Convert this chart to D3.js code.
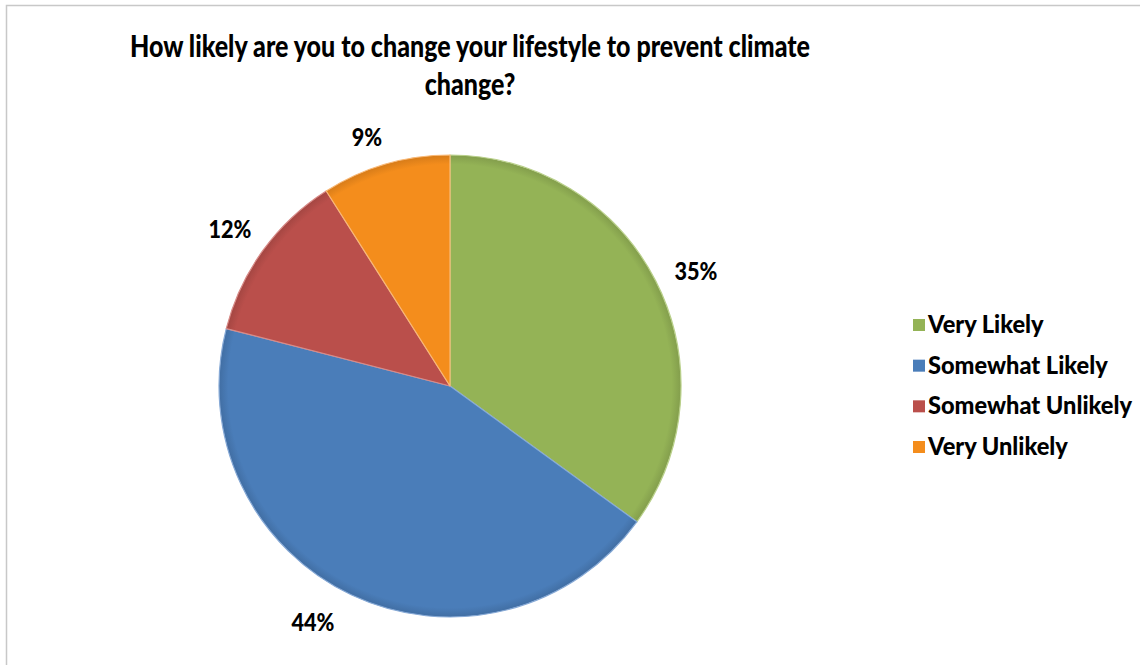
<!DOCTYPE html>
<html><head><meta charset="utf-8">
<script src="https://cdn.jsdelivr.net/npm/d3@7"></script>
<style>body{margin:0;background:#fff;}svg{display:block;}</style>
</head><body>
<svg id="chart" width="1140" height="665"></svg>
<script>
const categories = ["Very Likely", "Somewhat Likely", "Somewhat Unlikely", "Very Unlikely"];
const values = [35, 44, 12, 9];
const valueLabels = ["35%", "44%", "12%", "9%"];
const colors = ["#94B356", "#4A7DB9", "#BA4F4B", "#F48D1C"];
const strokeColors = ["#B9D08A", "#86A9D6", "#D88B88", "#F9B977"];
const titleLines = ["How likely are you to change your lifestyle to prevent climate", "change?"];

const svg = d3.select("#chart");
const FONT = "Lato, 'Open Sans', sans-serif";

// border
svg.append("path").attr("d", "M6.5,665 L6.5,5.5 L1140,5.5")
  .attr("fill", "none").attr("stroke", "#c8c8c8").attr("stroke-width", 1.5);

// title
const tfs = 30;
const tl1 = svg.append("text").attr("x", 470).attr("y", 57).attr("text-anchor", "middle")
  .attr("font-family", FONT).attr("font-weight", 900).attr("font-size", tfs).attr("fill", "#000").text(titleLines[0]);
const w1 = tl1.node().getComputedTextLength();
const ratio = 680 / w1;
tl1.attr("textLength", 680).attr("lengthAdjust", "spacingAndGlyphs");
const tl2 = svg.append("text").attr("x", 470).attr("y", 95).attr("text-anchor", "middle")
  .attr("font-family", FONT).attr("font-weight", 900).attr("font-size", tfs).attr("fill", "#000").text(titleLines[1]);
const w2 = tl2.node().getComputedTextLength();
tl2.attr("textLength", w2 * ratio).attr("lengthAdjust", "spacingAndGlyphs");

// pie
const cx = 450, cy = 386, R = 231;
const pie = d3.pie().sort(null).value(d => d)(values);
const arc = d3.arc().innerRadius(0).outerRadius(R);
const defs = svg.append("defs");
colors.forEach((c, i) => {
  const g = defs.append("radialGradient").attr("id", "g" + i).attr("gradientUnits", "userSpaceOnUse")
    .attr("cx", 0).attr("cy", 0).attr("r", R);
  g.append("stop").attr("offset", "0%").attr("stop-color", c);
  g.append("stop").attr("offset", "96%").attr("stop-color", c);
  g.append("stop").attr("offset", "100%").attr("stop-color", d3.color(c).darker(0.35));
});
const pg = svg.append("g").attr("transform", `translate(${cx},${cy})`);
pg.selectAll("path").data(pie).join("path")
  .attr("d", arc).attr("fill", (d, i) => `url(#g${i})`)
  .attr("stroke", (d, i) => strokeColors[i]).attr("stroke-width", 1.2).attr("stroke-linejoin", "round");

// data labels (center positions)
const labelPos = [[696, 280], [313, 631], [230, 238], [367, 146]];
svg.selectAll("text.lbl").data(valueLabels).join("text").attr("class", "lbl")
  .attr("x", (d, i) => labelPos[i][0]).attr("y", (d, i) => labelPos[i][1])
  .attr("text-anchor", "middle").attr("font-family", FONT).attr("font-weight", 900)
  .attr("font-size", 24).attr("fill", "#000").text(d => d)
  .each(function (d) { const s = d3.select(this); s.attr("textLength", s.node().getComputedTextLength() * 0.9).attr("lengthAdjust", "spacingAndGlyphs"); });

// legend
const ly = d3.scalePoint().domain(categories).range([333, 455]);
const lg = svg.append("g");
const ltexts = [];
categories.forEach((c, i) => {
  lg.append("rect").attr("x", 913).attr("y", ly(c) - 14).attr("width", 12).attr("height", 12)
    .attr("fill", colors[i]);
  ltexts.push(lg.append("text").attr("x", 928).attr("y", ly(c)).attr("font-family", FONT).attr("font-weight", 900)
    .attr("font-size", 24).attr("fill", "#000").text(c));
});
const lw = ltexts.map(t => t.node().getComputedTextLength());
const lratio = 204 / d3.max(lw);
ltexts.forEach((t, i) => t.attr("textLength", lw[i] * lratio).attr("lengthAdjust", "spacingAndGlyphs"));
</script>
</body></html>
